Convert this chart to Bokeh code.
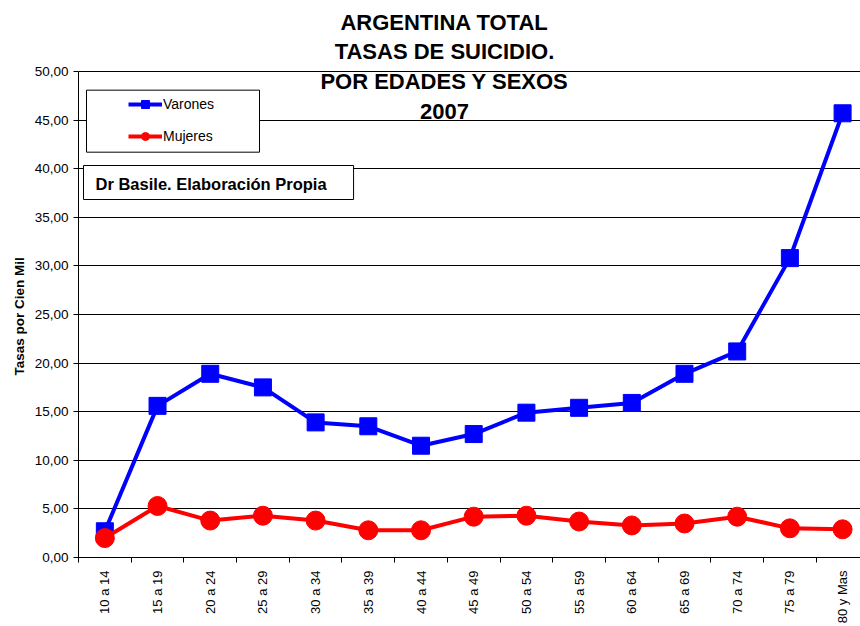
import math
from bokeh.plotting import figure
from bokeh.models import Range1d, FixedTicker, Label, BoxAnnotation, Legend, LegendItem, Title
from bokeh.embed import file_html
from bokeh.resources import INLINE

categories = ["10 a 14", "15 a 19", "20 a 24", "25 a 29", "30 a 34", "35 a 39", "40 a 44",
              "45 a 49", "50 a 54", "55 a 59", "60 a 64", "65 a 69", "70 a 74", "75 a 79", "80 y Mas"]
varones = [2.7, 15.6, 18.9, 17.5, 13.9, 13.5, 11.5, 12.7, 14.9, 15.4, 15.9, 18.9, 21.2, 30.8, 45.7]
mujeres = [2.0, 5.3, 3.8, 4.3, 3.8, 2.8, 2.8, 4.2, 4.3, 3.7, 3.3, 3.5, 4.2, 3.0, 2.9]
y_ticks = [0, 5, 10, 15, 20, 25, 30, 35, 40, 45, 50]
y_tick_labels = ["0,00", "5,00", "10,00", "15,00", "20,00", "25,00", "30,00", "35,00",
                 "40,00", "45,00", "50,00"]
title_lines = ["ARGENTINA TOTAL", "TASAS DE SUICIDIO.", "POR EDADES Y SEXOS", "2007"]
series_names = ["Varones", "Mujeres"]
note_text = "Dr Basile. Elaboración Propia"
y_axis_title = "Tasas por Cien Mil"

FONT = "Liberation Sans"
xs = [i + 0.5 for i in range(len(categories))]

# frame spans the full height above the x axis so that the title can sit inside it
p = figure(width=860, height=626, output_backend="svg", toolbar_location=None, title=None,
           x_range=Range1d(0, 14.84), y_range=Range1d(0, 50 * 557 / 486),
           min_border_left=78, min_border_right=0, min_border_top=0, min_border_bottom=69)
p.outline_line_color = None
p.background_fill_color = "white"
p.border_fill_color = "white"

# x axis
p.xaxis.ticker = FixedTicker(ticks=xs, minor_ticks=list(range(len(categories) + 1)))
p.xaxis.major_label_overrides = {x: c for x, c in zip(xs, categories)}
p.xaxis.major_tick_out = 0
p.xaxis.major_tick_in = 0
p.xaxis.minor_tick_out = 5
p.xaxis.minor_tick_in = 0
p.xaxis.minor_tick_line_color = "black"
p.xaxis.axis_line_color = "black"
p.xaxis.major_label_orientation = math.pi / 2
p.xaxis.major_label_standoff = 8
p.xaxis.major_label_text_font = FONT
p.xaxis.major_label_text_font_size = "13px"
p.xaxis.major_label_text_color = "black"

# y axis
p.yaxis.ticker = FixedTicker(ticks=y_ticks)
p.yaxis.bounds = (0, 50)
p.yaxis.major_label_overrides = {t: l for t, l in zip(y_ticks, y_tick_labels)}
p.yaxis.major_tick_out = 5
p.yaxis.major_tick_in = 0
p.yaxis.minor_tick_line_color = None
p.yaxis.axis_line_color = "black"
p.yaxis.major_tick_line_color = "black"
p.yaxis.major_label_standoff = 5
p.yaxis.major_label_text_font = FONT
p.yaxis.major_label_text_font_size = "13.5px"
p.yaxis.major_label_text_color = "black"

# y axis title, centred on the 0-50 span rather than the whole frame
p.add_layout(Title(text=y_axis_title, align="left", offset=182, standoff=9,
                   text_font=FONT, text_font_size="13.5px", text_font_style="bold",
                   text_color="black"), "left")

p.xgrid.visible = False
p.ygrid.ticker = FixedTicker(ticks=y_ticks)
p.ygrid.grid_line_color = "black"
p.ygrid.grid_line_width = 1

# series
l1 = p.line(xs, varones, line_color="#0000FF", line_width=4)
s1 = p.scatter(xs, varones, marker="square", size=17, fill_color="#0000FF", line_color="#0000FF")
l2 = p.line(xs, mujeres, line_color="#FF0000", line_width=4)
s2 = p.scatter(xs, mujeres, marker="circle", size=19, fill_color="#FF0000", line_color="#FF0000")

# legend frame
p.add_layout(BoxAnnotation(left=0.152, right=3.435, top=48.08, bottom=41.70,
                           fill_color="white", fill_alpha=1, line_color="black", line_width=1,
                           line_alpha=1))
legend = Legend(items=[LegendItem(label=series_names[0], renderers=[l1, s1]),
                       LegendItem(label=series_names[1], renderers=[l2, s2])],
                location=(50, 411), padding=0, margin=0, spacing=12,
                glyph_height=20, glyph_width=34, label_height=20, label_standoff=1,
                border_line_color=None, background_fill_alpha=0,
                label_text_font=FONT, label_text_font_size="14px", label_text_color="black")
p.add_layout(legend)

# note box
p.add_layout(BoxAnnotation(left=0.095, right=5.22, top=40.33, bottom=36.83,
                           fill_color="white", fill_alpha=1, line_color="black", line_width=1,
                           line_alpha=1))
p.add_layout(Label(x=0.323, y=38.4, text=note_text, text_font=FONT, text_font_size="16.5px",
                   text_font_style="bold", text_baseline="middle", text_align="left",
                   text_color="black"))

# title lines
title_y = [55.0, 52.1, 48.97, 45.88]
for t, ty in zip(title_lines, title_y):
    p.add_layout(Label(x=6.945, y=ty, text=t, text_font=FONT, text_font_size="22px",
                       text_font_style="bold", text_align="center", text_baseline="middle",
                       text_color="black"))

open("out.html", "w").write(file_html(p, INLINE))
